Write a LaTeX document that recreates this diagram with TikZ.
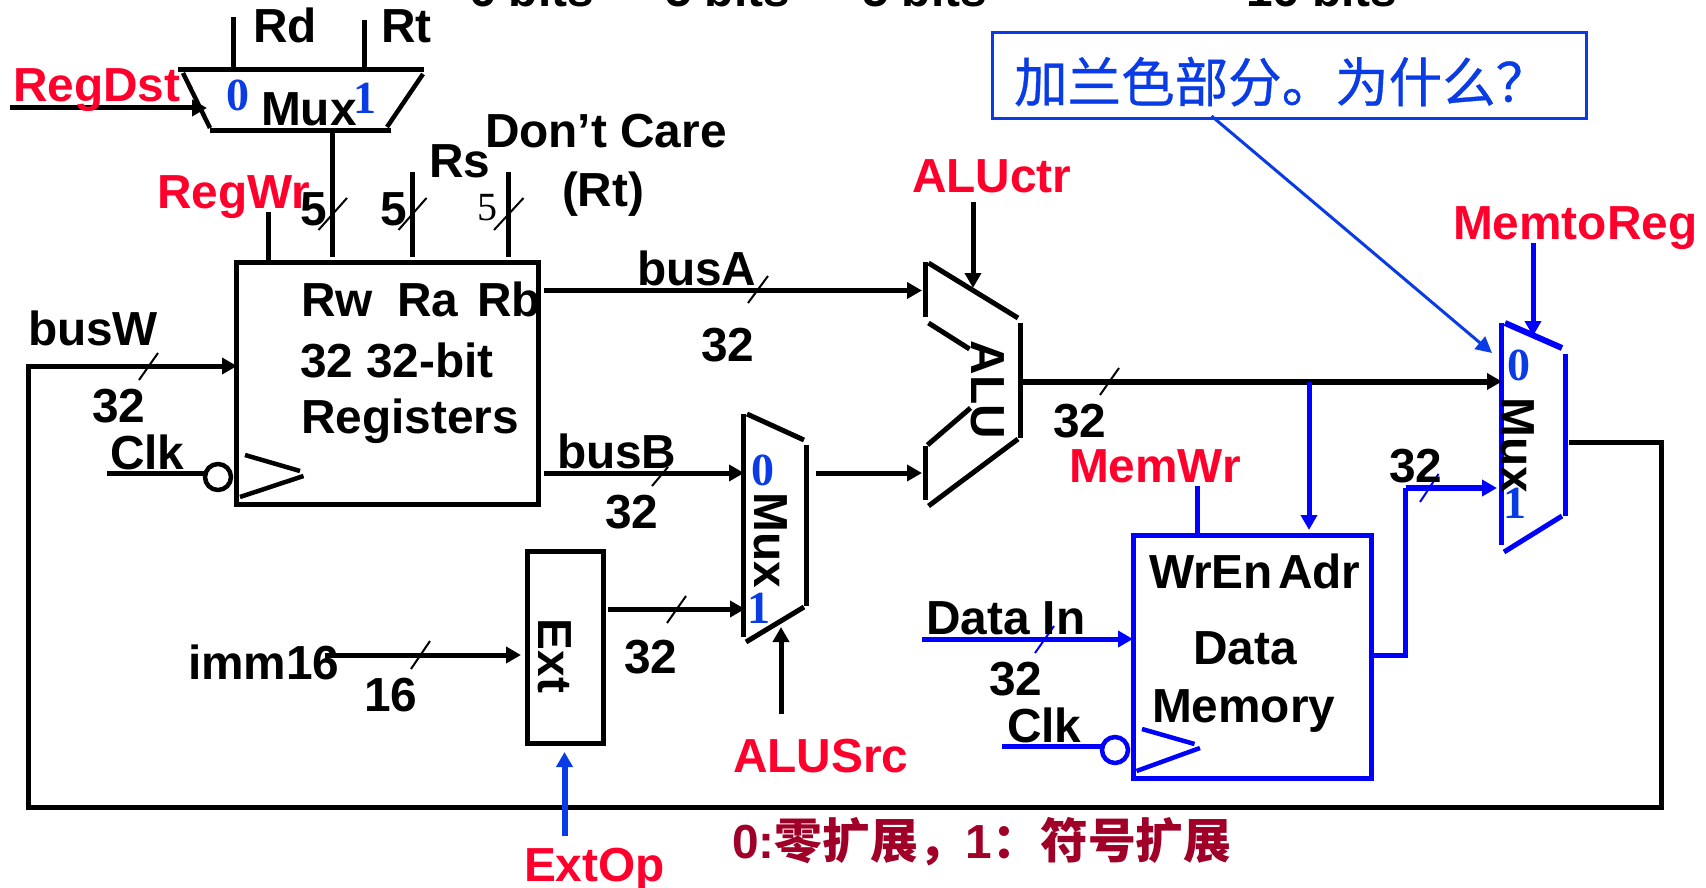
\documentclass[tikz,border=0pt]{standalone}
\usepackage{fontspec}
\setmainfont{Liberation Sans}
\newfontfamily\cjk{Noto Sans CJK SC}
\newfontfamily\cjkm[FakeBold=0.6]{Noto Sans CJK SC}
\newfontfamily\tms{Liberation Serif}
\usetikzlibrary{arrows.meta}
\definecolor{sigred}{RGB}{255,0,45}
\definecolor{pureblue}{RGB}{0,0,255}
\definecolor{noteblue}{RGB}{10,60,230}
\definecolor{noteRed}{RGB}{160,0,40}
\tikzset{
  wire/.style={line width=5pt,line cap=butt},
  arr/.style={-{Triangle[length=15pt,width=16pt]}},
  thinarr/.style={-{Triangle[length=16pt,width=16pt]},line width=3pt},
  slash/.style={line width=2pt},
  lbl/.style={inner sep=0pt,outer sep=0pt,anchor=base west,font=\fontsize{47.8}{50}\selectfont\bfseries},
  ctl/.style={lbl,text=sigred},
  vert/.style={inner sep=0pt,outer sep=0pt,rotate=-90,anchor=center,font=\fontsize{47.8}{50}\selectfont\bfseries},
  digit/.style={inner sep=0pt,outer sep=0pt,anchor=center,text=noteblue,font=\fontsize{46}{46}\selectfont\tms\bfseries},
  boxk/.style={draw,line width=5pt,inner sep=0pt,outer sep=0pt,anchor=north west},
}
\begin{document}
\begin{tikzpicture}[x=1pt,y=-1pt]
\useasboundingbox (0,0) rectangle (1706,888);
\clip (0,0) rectangle (1706,888);
\fill[white] (0,0) rectangle (1706,888);

% header, cut by the page top
\node[lbl] (h1) at (469,6.5) {6 bits};
\node[lbl] (h2) at (665,6.5) {5 bits};
\node[lbl] (h3) at (862,6.5) {5 bits};
\node[lbl] (h4) at (1246,6.5) {16 bits};

% blocks
\node[boxk,minimum width=302pt,minimum height=242pt] (regs) at (236,262) {};
\node[boxk,minimum width=76pt,minimum height=192pt] (ext) at (527,551) {};
\node[boxk,draw=pureblue,minimum width=238pt,minimum height=243pt] (mem) at (1133,535) {};
\node[draw=noteblue,line width=3pt,inner sep=0pt,outer sep=0pt,anchor=north west,minimum width=594pt,minimum height=86pt] (note) at (992.5,33) {};

% named pin coordinates
\coordinate (rdt) at (233.5,17); \coordinate (rdb) at (233.5,70);
\coordinate (rtt) at (364.5,20); \coordinate (rtb) at (364.5,70);
\coordinate (dst) at (10,108);   \coordinate (dste) at (207,108);
\coordinate (mo) at (332.5,131); \coordinate (rwp) at (332.5,257);
\coordinate (wrt) at (268.5,212); \coordinate (wrb) at (268.5,262);
\coordinate (rat) at (412.5,172); \coordinate (rab) at (412.5,257);
\coordinate (rbt) at (508.5,172); \coordinate (rbb) at (508.5,257);
\coordinate (aout) at (544,290.5); \coordinate (aalu) at (922,290.5);
\coordinate (bout) at (544,473); \coordinate (bmux) at (744,473);
\coordinate (smo) at (816,473); \coordinate (balu) at (922,473);
\coordinate (ctlt) at (973,202); \coordinate (ctlb) at (973,288);
\coordinate (imm) at (325,655); \coordinate (exti) at (521,655);
\coordinate (exto) at (608,609); \coordinate (muxi) at (745,609);
\coordinate (srcb) at (781,714); \coordinate (srct) at (781,627);
\coordinate (opb) at (564.5,836); \coordinate (opt) at (564.5,752);
\coordinate (res) at (1021,381.5); \coordinate (resm) at (1502,381.5);
\coordinate (adrj) at (1309,381.5); \coordinate (adrp) at (1309,530);
\coordinate (wet) at (1197,486); \coordinate (web) at (1197,535);
\coordinate (din) at (922,639); \coordinate (dinp) at (1133,639);
\coordinate (clk1) at (107,473); \coordinate (clk1e) at (204,473);
\coordinate (clk2) at (1002,746); \coordinate (clk2e) at (1101,746);
\coordinate (do1) at (1371,655); \coordinate (do2) at (1405.5,655);
\coordinate (do3) at (1405.5,488); \coordinate (do4) at (1497,488);
\coordinate (mtr) at (1533,243); \coordinate (mtrb) at (1533,336);
\coordinate (mo1) at (1568.5,442); \coordinate (mo2) at (1661,442);
\coordinate (mo3) at (1661,807); \coordinate (mo4) at (28,807);
\coordinate (mo5) at (28,366); \coordinate (wbus) at (237,366);
\coordinate (n1) at (1211.5,116); \coordinate (n2) at (1492,353);

% RegDst mux
\draw[wire] (178,70) -- (424,70);
\draw[line width=4.5pt] (183,73) -- (210,128);
\draw[line width=4.5pt] (423,74) -- (387,127);
\draw[wire] (210,131) -- (391,131);
% source register mux
\draw[line width=5pt] (743.5,414) -- (743.5,637);
\draw[line width=5pt] (747,414) -- (804,440);
\draw[line width=5pt] (806.5,445) -- (806.5,606);
\draw[line width=5pt] (746,642) -- (804,607);
% ALU
\draw[line width=5pt] (925,262) -- (925,317);
\draw[line width=5pt] (928.5,263) -- (1018,318);
\draw[line width=5pt] (1020.5,323) -- (1020.5,438);
\draw[line width=5pt] (928.5,323) -- (969.5,349);
\draw[line width=5pt] (970.5,408) -- (927.5,445);
\draw[line width=5pt] (925,446) -- (925,500);
\draw[line width=5pt] (1018,439) -- (928.5,506);
% blue mux
\draw[line width=5pt,pureblue] (1501.5,323) -- (1501.5,545);
\draw[line width=6pt,pureblue] (1505,323) -- (1562,348);
\draw[line width=5pt,pureblue] (1565,354) -- (1565,516);
\draw[line width=5pt,pureblue] (1562,516) -- (1504,552);

% clock marks
\node[draw,line width=4.5pt,circle,inner sep=0pt,minimum size=26pt] (c1) at (218,477) {};
\draw[line width=4.5pt] (245,455) -- (300,471);
\draw[line width=4.5pt] (240,497) -- (303.5,476);
\node[draw=pureblue,line width=4.5pt,circle,inner sep=0pt,minimum size=26pt] (c2) at (1115,750) {};
\draw[line width=4.5pt,pureblue] (1142,729) -- (1194.5,744);
\draw[line width=4.5pt,pureblue] (1136.5,771) -- (1200,748);

% black wires
\draw[wire] (rdt) -- (rdb);
\draw[wire] (rtt) -- (rtb);
\draw[wire,arr] (dst) -- (dste);
\draw[wire] (mo) -- (rwp);
\draw[wire] (wrt) -- (wrb);
\draw[wire] (rat) -- (rab);
\draw[wire] (rbt) -- (rbb);
\draw[wire,arr] (aout) -- (aalu);
\draw[wire,arr] (bout) -- (bmux);
\draw[wire,arr] (smo) -- (balu);
\draw[wire,arr] (ctlt) -- (ctlb);
\draw[wire,arr] (imm) -- (exti);
\draw[wire,arr] (exto) -- (muxi);
\draw[wire,arr] (srcb) -- (srct);
\draw[wire] (clk1) -- (clk1e);
\draw[wire,arr,line join=miter] (mo1) -- (mo2) -- (mo3) -- (mo4) -- (mo5) -- (wbus);
\draw[wire,line width=6pt,arr] (res) -- (resm);

% blue wires
\draw[wire,pureblue,arr] (adrj) -- (adrp);
\draw[wire,pureblue] (wet) -- (web);
\draw[wire,pureblue,arr] (din) -- (dinp);
\draw[wire,pureblue] (clk2) -- (clk2e);
\draw[wire,pureblue,line join=miter] (do1) -- (do2) -- (do3);
\draw[wire,line width=6pt,pureblue,arr] (do3) -- (do4);
\draw[wire,pureblue,arr] (mtr) -- (mtrb);
\draw[wire,line width=6pt,noteblue,arr] (opb) -- (opt);
\draw[noteblue,thinarr] (n1) -- (n2);

% bus slashes
\draw[slash] (318.5,230) -- (347,198);
\draw[slash] (398.5,230) -- (426.5,198);
\draw[slash] (494,230) -- (523.5,198);
\draw[slash] (748,303) -- (768,276);
\draw[slash] (139,380) -- (158,353);
\draw[slash] (652,486) -- (668,467);
\draw[slash] (411,669) -- (430,641);
\draw[slash] (667,623) -- (686,596);
\draw[slash] (1100,395) -- (1119,368);
\draw[slash,pureblue] (1420,502) -- (1438.5,474);
\draw[slash,pureblue] (1035,653) -- (1054,626);

% labels
\node[ctl] (lregdst) at (13,102) {RegDst};
\node[lbl] (lrd) at (253,43) {Rd};
\node[lbl] (lrt) at (381,43) {Rt};
\node[lbl] (lmux) at (261,126) {Mux};
\node[ctl] (lregwr) at (157,208) {RegWr};
\node[lbl] (l51) at (300,225) {5};
\node[lbl] (l52) at (380,225) {5};
\node[inner sep=0pt,anchor=base west,font=\fontsize{40}{40}\selectfont\tms] (l53) at (477,220) {5};
\node[lbl] (lrs) at (429,178) {Rs};
\node[lbl] (ldc) at (485,148) {Don’t Care};
\node[lbl] (lrtb) at (562,207) {(Rt)};
\node[lbl] (lrw) at (301,316) {Rw};
\node[lbl] (lra) at (397,316) {Ra};
\node[lbl] (lrb) at (477,316) {Rb};
\node[lbl] (l3232) at (300,377) {32 32-bit};
\node[lbl] (lreg) at (301,433) {Registers};
\node[lbl] (lbusa) at (637,285) {busA};
\node[lbl] (lbusb) at (557,468) {busB};
\node[lbl] (lbusw) at (28,345) {busW};
\node[lbl] (l32a) at (701,361) {32};
\node[lbl] (l32w) at (92,422) {32};
\node[lbl] (l32b) at (605,528) {32};
\node[lbl] (lclk1) at (110,469) {Clk};
\node[lbl] (limm) at (188,679) {imm16};
\node[lbl] (l16) at (364,711) {16};
\node[lbl] (l32e) at (624,673) {32};
\node[ctl] (lsrc) at (733,772) {ALUSrc};
\node[ctl] (lop) at (524,881) {ExtOp};
\node[ctl] (lctr) at (912,193) {ALUctr};
\node[ctl] (lmtr) at (1453,239) {MemtoReg};
\node[ctl] (lwr) at (1069,482) {MemWr};
\node[lbl] (l32r) at (1053,437) {32};
\node[lbl] (l32m) at (1389,482) {32};
\node[lbl] (l32i) at (989,695) {32};
\node[lbl] (lwren) at (1149,588) {WrEn};
\node[lbl] (ladr) at (1278,588) {Adr};
\node[lbl] (ldata) at (1193,664) {Data};
\node[lbl] (lmem) at (1152,722) {Memory};
\node[lbl] (ldin) at (926,634) {Data In};
\node[lbl] (lclk2) at (1007,742) {Clk};

\node[vert] (vmux1) at (771,540) {Mux};
\node[vert] (vext) at (555,656) {Ext};
\node[vert] (valu) at (988,390) {ALU};
\node[vert] (vmux2) at (1518,445) {Mux};

\node[digit] (d0a) at (238,95) {0};
\node[digit] (d1a) at (365,98) {1};
\node[digit] (d0b) at (763,470) {0};
\node[digit] (d1b) at (759,608) {1};
\node[digit] (d0c) at (1519,365) {0};
\node[digit] (d1c) at (1515,503) {1};

\node[inner sep=0pt,anchor=base west,text=noteblue,font=\fontsize{53.5}{54}\selectfont\cjkm] (ntext) at (1014,102) {加兰色部分。为什么？};
\node[inner sep=0pt,anchor=base west,text=noteRed,font=\fontsize{47.8}{48}\selectfont\bfseries] (zero) at (732,858) {0:{\cjk\bfseries 零扩展，}1{\cjk\bfseries ：符号扩展}};
\end{tikzpicture}
\end{document}
